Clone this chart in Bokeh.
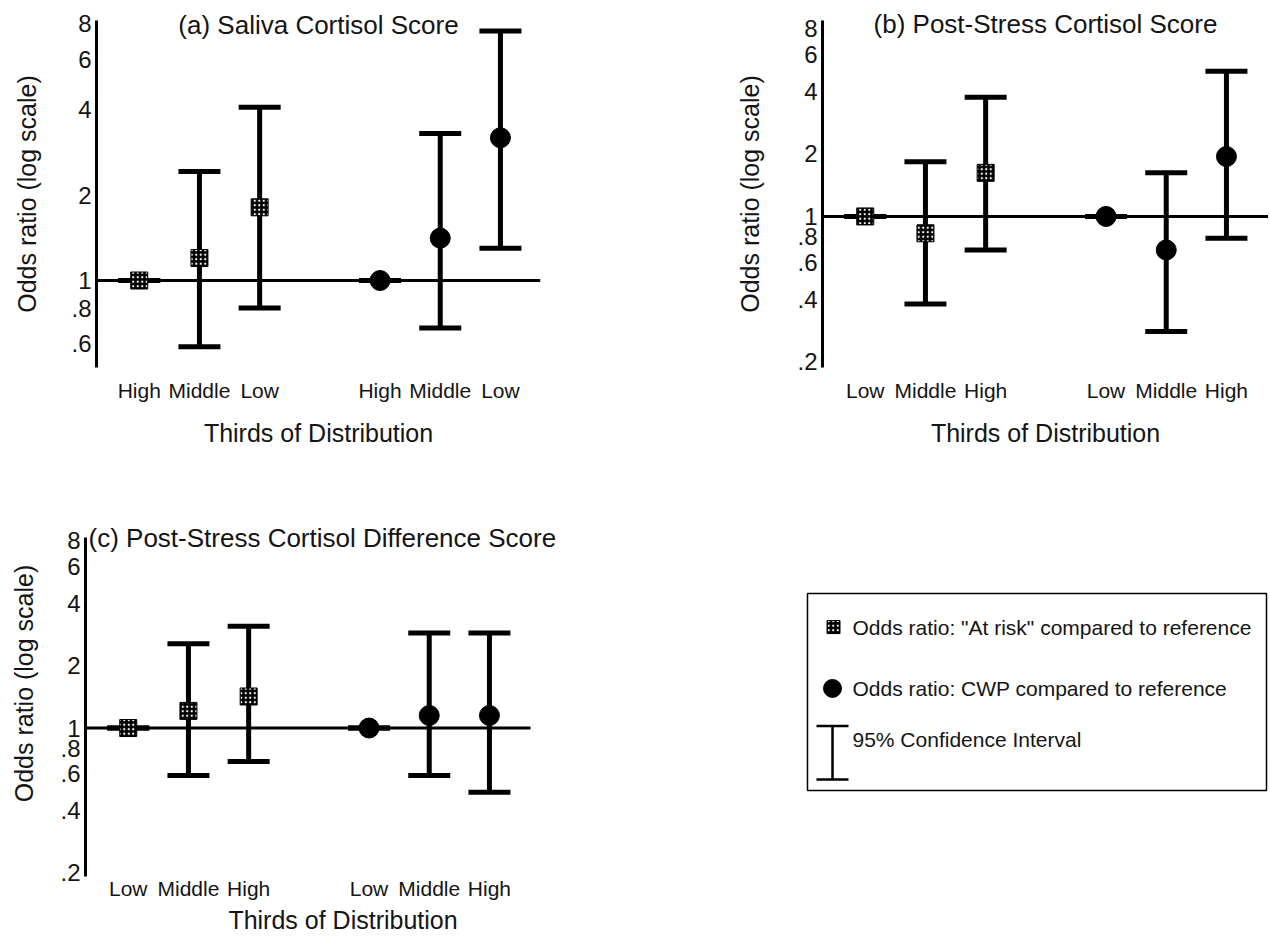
import math
from bokeh.plotting import figure
from bokeh.models import Range1d, FixedTicker, Whisker, TeeHead, ColumnDataSource, Label
from bokeh.layouts import row, column
from bokeh.embed import file_html
from bokeh.resources import INLINE
from bokeh.core.properties import value

FONT = "Liberation Sans"
INK = "#141414"

# ---------------- data ----------------
pos_risk = [0, 1, 2]          # "At risk" vs reference
pos_cwp = [4, 5, 6]           # CWP vs reference

a_levels = ["High", "Middle", "Low"]
a_risk_or = [1.0, 1.20, 1.81]
a_risk_lo = [1.0, 0.585, 0.80]
a_risk_hi = [1.0, 2.42, 4.07]
a_cwp_or = [1.0, 1.41, 3.18]
a_cwp_lo = [1.0, 0.68, 1.30]
a_cwp_hi = [1.0, 3.29, 7.56]

b_levels = ["Low", "Middle", "High"]
b_risk_or = [1.0, 0.83, 1.62]
b_risk_lo = [1.0, 0.38, 0.69]
b_risk_hi = [1.0, 1.83, 3.74]
b_cwp_or = [1.0, 0.69, 1.94]
b_cwp_lo = [1.0, 0.28, 0.785]
b_cwp_hi = [1.0, 1.62, 4.98]

c_levels = ["Low", "Middle", "High"]
c_risk_or = [1.0, 1.21, 1.42]
c_risk_lo = [1.0, 0.59, 0.69]
c_risk_hi = [1.0, 2.55, 3.10]
c_cwp_or = [1.0, 1.15, 1.15]
c_cwp_lo = [1.0, 0.59, 0.49]
c_cwp_hi = [1.0, 2.88, 2.88]

a_yticks = [0.6, 0.8, 1, 2, 4, 6, 8]
a_ytick_labels = [".6", ".8", "1", "2", "4", "6", "8"]
bc_yticks = [0.2, 0.4, 0.6, 0.8, 1, 2, 4, 6, 8]
bc_ytick_labels = [".2", ".4", ".6", ".8", "1", "2", "4", "6", "8"]

titles = ["(a) Saliva Cortisol Score",
          "(b) Post-Stress Cortisol Score",
          "(c) Post-Stress Cortisol Difference Score"]
x_title = "Thirds of Distribution"
y_title = "Odds ratio (log scale)"
legend_labels = ['Odds ratio: "At risk" compared to reference',
                 'Odds ratio: CWP compared to reference',
                 '95% Confidence Interval']

X_START = -0.71
PX_PER_X = 60.2


def style_risk(p, x, y, size=17):
    return p.scatter(x, y, marker="square", size=size, fill_color="black",
                     line_color="black", line_width=1,
                     hatch_pattern="dot", hatch_color="white",
                     hatch_scale=4.5, hatch_weight=1.6)


def style_cwp(p, x, y, size=20):
    return p.scatter(x, y, marker="circle", size=size, fill_color="black",
                     line_color="black")


def make_panel(title, levels, r_or, r_lo, r_hi, c_or, c_lo, c_hi,
               yticks, ylabels, axis_lo, axis_hi, axis_px, extra_top,
               frame_w, ref_end, width, height, bl, bt, bb,
               ylab_standoff, xlab_standoff, xtitle_standoff,
               title_mode, title_dy):
    px_per_log2 = axis_px / math.log2(axis_hi / axis_lo)
    y_end = axis_hi * 2 ** (extra_top / px_per_log2)
    x_end = X_START + frame_w / PX_PER_X
    br = width - bl - frame_w
    p = figure(width=width, height=height,
               x_range=Range1d(X_START, x_end), y_range=Range1d(axis_lo, y_end),
               y_axis_type="log", output_backend="svg", toolbar_location=None,
               min_border_left=bl, min_border_right=br,
               min_border_top=bt, min_border_bottom=bb)
    p.outline_line_color = None
    p.grid.visible = False

    # y axis
    ya = p.yaxis[0]
    ya.bounds = (axis_lo, axis_hi)
    ya.ticker = FixedTicker(ticks=yticks)
    ya.major_label_overrides = dict(zip(yticks, ylabels))
    ya.axis_line_width = 3
    ya.axis_line_color = "black"
    ya.major_tick_line_color = None
    ya.minor_tick_line_color = None
    ya.major_tick_out = 0
    ya.major_tick_in = 0
    ya.major_label_standoff = 5
    ya.major_label_text_font = FONT
    ya.major_label_text_font_size = "24px"
    ya.major_label_text_color = INK
    ya.axis_label = y_title
    ya.axis_label_text_font = FONT
    ya.axis_label_text_font_size = "25px"
    ya.axis_label_text_font_style = "normal"
    ya.axis_label_text_color = INK
    ya.axis_label_standoff = ylab_standoff

    # x axis
    xa = p.xaxis[0]
    xt = pos_risk + pos_cwp
    xa.ticker = FixedTicker(ticks=xt)
    xa.major_label_overrides = dict(zip(xt, levels + levels))
    xa.axis_line_color = None
    xa.major_tick_line_color = None
    xa.minor_tick_line_color = None
    xa.major_tick_out = 0
    xa.major_tick_in = 0
    xa.major_label_standoff = xlab_standoff
    xa.major_label_text_font = FONT
    xa.major_label_text_font_size = "21px"
    xa.major_label_text_color = INK
    xa.axis_label = x_title
    xa.axis_label_text_font = FONT
    xa.axis_label_text_font_size = "25px"
    xa.axis_label_text_font_style = "normal"
    xa.axis_label_text_color = INK
    xa.axis_label_standoff = xtitle_standoff

    # reference line at OR = 1
    p.line([X_START, ref_end], [1, 1], line_color="black", line_width=3)

    # confidence intervals
    for xs, lo, hi in ((pos_risk, r_lo, r_hi), (pos_cwp, c_lo, c_hi)):
        src = ColumnDataSource(dict(x=xs, lo=lo, hi=hi))
        p.add_layout(Whisker(source=src, base="x", lower="lo", upper="hi",
                             dimension="height", line_color="black", line_width=5,
                             upper_head=TeeHead(size=42, line_width=5, line_color="black"),
                             lower_head=TeeHead(size=42, line_width=5, line_color="black")))

    style_risk(p, pos_risk, r_or)
    style_cwp(p, pos_cwp, c_or)

    # panel title
    if title_mode == "title":
        p.title.text = title
        p.title.align = "center"
        p.title.vertical_align = "bottom"
        p.title.standoff = title_dy
        p.title.text_font = FONT
        p.title.text_font_size = "26px"
        p.title.text_font_style = "normal"
        p.title.text_color = INK
    else:
        tl = Label(x=X_START, y=axis_hi, x_offset=3, y_offset=title_dy, text=title,
                   text_align="left", text_baseline="middle")
        tl.text_font = FONT
        tl.text_font_size = "26px"
        tl.text_color = INK
        p.add_layout(tl)
    return p


# panel (a): frame x 96..540, y 20..367
pa = make_panel(titles[0], a_levels, a_risk_or, a_risk_lo, a_risk_hi,
                a_cwp_or, a_cwp_lo, a_cwp_hi, a_yticks, a_ytick_labels,
                0.494, 8.23, 347, 0, 444, X_START + 444 / PX_PER_X,
                700, 470, 96, 20, 103, 27, 11, 14, "title", -38)
# panel (b): frame x 822..1268, y 18..367
pb = make_panel(titles[1], b_levels, b_risk_or, b_risk_lo, b_risk_hi,
                b_cwp_or, b_cwp_lo, b_cwp_hi, bc_yticks, bc_ytick_labels,
                0.188, 8.74, 349, 0, 446, X_START + 446 / PX_PER_X,
                568, 470, 122, 18, 103, 30, 11, 14, "title", -36)
# panel (c): frame x 85..600 (axis 85..530), frame y 490..880 (axis 537..880)
pc = make_panel(titles[2], c_levels, c_risk_or, c_risk_lo, c_risk_hi,
                c_cwp_or, c_cwp_lo, c_cwp_hi, bc_yticks, bc_ytick_labels,
                0.192, 8.36, 343, 47, 515, X_START + 445 / PX_PER_X,
                700, 466, 85, 20, 56, 19, 0, 3, "label", -1)

# ---------------- legend panel (frame aligned with panel c: y 490..880) ----------------
pd_ = figure(width=568, height=466, x_range=Range1d(0, 568), y_range=Range1d(390, 0),
             output_backend="svg", toolbar_location=None,
             min_border_left=0, min_border_right=0, min_border_top=20, min_border_bottom=56,
             x_axis_location=None, y_axis_location=None)
pd_.outline_line_color = None
pd_.grid.visible = False
pd_.quad(left=[107], right=[566], top=[104], bottom=[303], fill_color=None,
         line_color="black", line_width=1.5)
style_risk(pd_, [133], [138], size=13)
style_cwp(pd_, [132], [200], size=18)
pd_.segment(x0=[132, 116, 116], y0=[238, 238, 292], x1=[132, 148, 148], y1=[292, 238, 292],
            line_color="black", line_width=2.5)
pd_.text(x=[152, 152, 152], y=[138, 200, 252], text=legend_labels,
         text_font=value(FONT), text_font_size=value("21px"), text_color=INK,
         text_baseline="middle", text_align="left")

layout = column(row(pa, pb), row(pc, pd_))
open("out.html", "w").write(file_html(layout, INLINE))
